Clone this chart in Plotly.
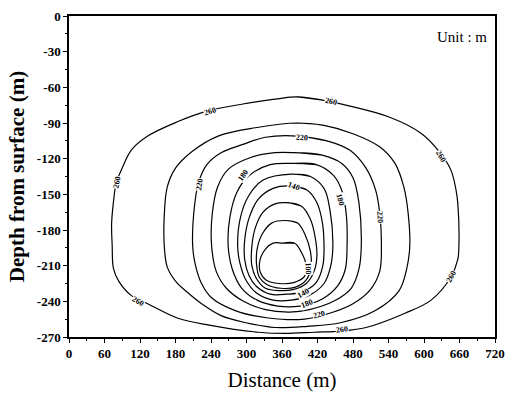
import plotly.graph_objects as go

# Contour levels (m) and traced contour rings (distance m, depth m)
levels = [260, 240, 220, 200, 180, 160, 140, 120, 100, 80]

r260_x = [386, 431, 468, 541, 596, 624, 645, 654, 657, 659, 657, 645, 612, 568, 502, 459, 414, 365, 320, 237, 183, 133, 105, 84, 75, 73, 72, 75, 80, 89, 105, 133, 183, 233, 294, 348]
r260_y = [-68, -71, -75, -85, -99, -113, -129, -146, -157, -193, -205, -220, -239, -250, -262, -265, -266, -267, -266, -260, -254, -242, -235, -223, -212, -193, -175, -157, -140, -129, -113, -101, -89, -80, -74, -70]

r240_x = [386, 431, 480, 525, 551, 566, 573, 576, 571, 558, 517, 459, 403, 348, 299, 257, 224, 199, 180, 166, 161, 161, 166, 180, 208, 252, 315]
r240_y = [-90, -92, -99, -110, -124, -144, -165, -193, -212, -231, -248, -258, -261, -262, -258, -252, -242, -232, -223, -211, -193, -168, -144, -128, -114, -101, -94]

r220_x = [386, 436, 475, 502, 518, 525, 528, 525, 508, 480, 447, 398, 337, 282, 241, 224, 213, 209, 211, 219, 233, 257, 294, 332]
r220_y = [-101, -105, -113, -128, -146, -165, -193, -215, -231, -242, -249, -255, -254, -248, -237, -225, -208, -193, -165, -140, -125, -115, -108, -102]

r200_x = [381, 428, 461, 480, 490, 494, 490, 477, 447, 406, 373, 332, 295, 266, 249, 241, 242, 251, 269, 307, 348]
r200_y = [-115, -117, -124, -136, -157, -193, -213, -229, -240, -247, -249, -247, -240, -229, -215, -193, -167, -144, -129, -119, -115]

r180_x = [381, 418, 447, 462, 469, 470, 467, 454, 428, 390, 353, 318, 292, 276, 269, 272, 284, 305, 340]
r180_y = [-124, -125, -134, -148, -169, -193, -213, -227, -238, -244, -244, -239, -229, -213, -193, -169, -148, -134, -125]

r160_x = [376, 408, 431, 441, 446, 442, 431, 406, 376, 345, 317, 299, 289, 285, 290, 304, 328]
r160_y = [-133, -135, -145, -163, -193, -211, -225, -235, -239, -239, -233, -222, -208, -193, -169, -151, -138]

r140_x = [373, 401, 419, 428, 431, 429, 418, 394, 368, 340, 318, 304, 297, 297, 305, 320, 345]
r140_y = [-143, -146, -157, -173, -193, -210, -224, -232, -234, -234, -228, -218, -205, -188, -169, -154, -145]

r120_x = [368, 393, 408, 416, 419, 414, 401, 380, 355, 332, 317, 309, 309, 315, 328, 348]
r120_y = [-157, -160, -171, -186, -202, -215, -225, -230, -231, -229, -221, -210, -194, -178, -165, -158]

r100_x = [365, 386, 399, 408, 409, 401, 383, 358, 335, 322, 317, 318, 327, 343]
r100_y = [-172, -174, -184, -198, -211, -222, -228, -229, -226, -220, -209, -196, -183, -174]

r80_x = [361, 381, 394, 401, 398, 381, 355, 333, 323, 323, 332, 345]
r80_y = [-191, -191, -200, -210, -219, -224, -225, -222, -215, -205, -196, -191]

rings_x = [r260_x, r240_x, r220_x, r200_x, r180_x, r160_x, r140_x, r120_x, r100_x, r80_x]
rings_y = [r260_y, r240_y, r220_y, r200_y, r180_y, r160_y, r140_y, r120_y, r100_y, r80_y]

# Contour labels: text, distance, depth, angle
label_text = ["260", "260", "260", "260", "260", "260", "260",
              "220", "220", "220", "220",
              "180", "180", "180",
              "140", "140", "100"]
label_x = [443, 238, 81, 629, 646, 117, 461,
           393, 221, 525, 423,
           294, 459, 403,
           381, 395, 405]
label_y = [-72, -80, -140, -118, -219, -240, -264,
           -102, -142, -169, -251,
           -134, -154, -242,
           -143, -233, -212]
label_angle = [12, -15, -78, 60, -62, 30, -8,
               3, -80, 88, -15,
               -55, 75, -22,
               20, -30, 88]

x_ticks = [0, 60, 120, 180, 240, 300, 360, 420, 480, 540, 600, 660, 720]
y_ticks = [0, -30, -60, -90, -120, -150, -180, -210, -240, -270]
y_ticktext = ["0", "-30", "-60", "-90", "-120", "-150", "-180", "-210", "-240", "-270"]

fig = go.Figure()
for lv, xs, ys in zip(levels, rings_x, rings_y):
    fig.add_trace(go.Scatter(
        x=xs + xs[:2], y=ys + ys[:2], mode="lines",
        line=dict(color="black", width=1.2, shape="spline", smoothing=1.0),
        name=str(lv), hoverinfo="skip", showlegend=False))

for t, lx, ly, ang in zip(label_text, label_x, label_y, label_angle):
    fig.add_annotation(x=lx, y=ly, text="<b>" + t + "</b>", showarrow=False,
                       textangle=ang, bgcolor="white", borderpad=0,
                       font=dict(family="Liberation Serif", size=8, color="#000000"))

fig.add_annotation(x=0.985, y=0.936, xref="paper", yref="paper", xanchor="right", yanchor="middle",
                   text="Unit : m", showarrow=False,
                   font=dict(family="Liberation Serif", size=15, color="black"))

axis_common = dict(showline=True, linecolor="black", linewidth=1.5, mirror=True,
                   showgrid=False, zeroline=False, ticks="outside", ticklen=4,
                   tickwidth=1.2, tickcolor="black",
                   tickfont=dict(family="Liberation Serif", size=13, color="black", weight="bold"))

fig.update_xaxes(range=[0, 720], tickvals=x_ticks, ticktext=[str(v) for v in x_ticks],
                 minor=dict(ticks="outside", ticklen=2, dtick=30, tick0=0, tickcolor="black"),
                 title=dict(text="Distance (m)", standoff=12,
                            font=dict(family="Liberation Serif", size=21, color="black")),
                 **axis_common)
fig.update_yaxes(range=[-270, 0], tickvals=y_ticks, ticktext=y_ticktext,
                 minor=dict(ticks="outside", ticklen=2, dtick=15, tick0=0, tickcolor="black"),
                 title=dict(text="<b>Depth from surface (m)</b>", standoff=6,
                            font=dict(family="Liberation Serif", size=21, color="black")),
                 **axis_common)

fig.update_layout(width=514, height=399, margin=dict(l=69, r=9, t=10, b=62),
                  plot_bgcolor="white", paper_bgcolor="white", showlegend=False)

fig.write_html("out.html")
